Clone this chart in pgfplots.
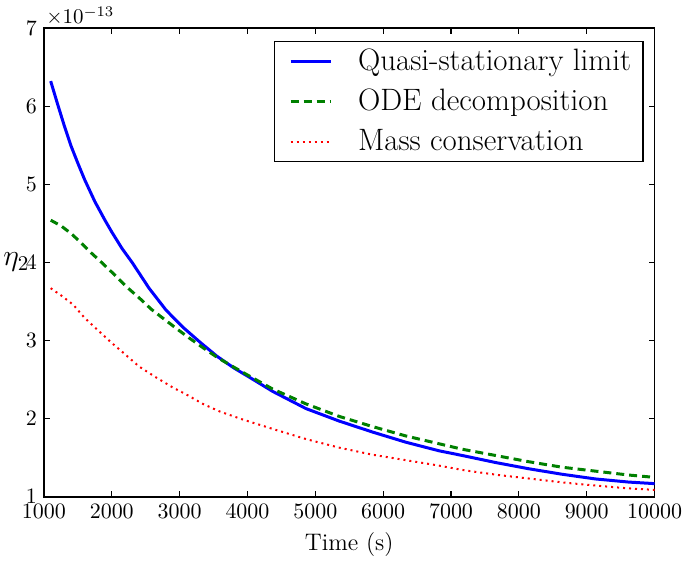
\RequirePackage{fix-cm}
\documentclass[border=0pt]{standalone}
\usepackage{fontspec}
\usepackage{pgfplots}
\pgfplotsset{compat=1.18}
\definecolor{mplgreen}{RGB}{0,128,0}
\begin{document}
\begin{tikzpicture}
\begin{axis}[
  scale only axis,
  width=306pt, height=235pt,
  xmin=1000, xmax=10000,
  ymin=1e-13, ymax=7e-13,
  xtick={1000,2000,...,10000},
  ytick={1e-13,2e-13,3e-13,4e-13,5e-13,6e-13,7e-13},
  scaled x ticks=false,
  scaled y ticks=base 10:13,
  ytick scale label code/.code={$\times 10^{#1}$},
  every y tick scale label/.style={at={(rel axis cs:0,1)}, anchor=south west,
    inner sep=1pt, font=\fontsize{10.5}{12}\selectfont},
  /pgf/number format/1000 sep={},
  tick align=inside,
  major tick length=3pt,
  axis line style={line width=0.8pt},
  major tick style={line width=0.6pt, black},
  tick label style={font=\fontsize{11}{13}\selectfont},
  xticklabel style={inner xsep=0pt},
  xlabel style={font=\fontsize{12}{14}\selectfont, yshift=-0.5pt},
  xlabel={Time (s)},
  ylabel={$\eta_2$},
  ylabel style={font=\fontsize{15}{17}\selectfont, at={(axis description cs:-0.02,0.5)},
    rotate=-90, anchor=east, inner sep=1pt},
  legend style={at={(rel axis cs:1,1)}, xshift=-5.5pt, yshift=-6.5pt, anchor=north east,
    draw=black, line width=0.6pt, font=\fontsize{15.5}{18}\selectfont,
    row sep=3.8pt, inner xsep=4pt, inner ysep=1.8pt, cells={anchor=west},
    /tikz/every odd column/.append style={column sep=11pt}},
  legend image code/.code={\path (0pt,0pt); \draw[#1] (3.5pt,0pt) -- (23.5pt,0pt);},
]
\addplot[blue, line width=1.5pt] coordinates {
(1100,6.32e-13) (1200,6.03e-13) (1300,5.75e-13) (1400,5.49e-13) (1500,5.27e-13)
(1600,5.06e-13) (1750,4.78e-13) (1900,4.54e-13) (2000,4.39e-13) (2150,4.18e-13)
(2300,4.00e-13) (2550,3.67e-13) (2800,3.39e-13) (3050,3.17e-13) (3300,2.98e-13)
(3550,2.80e-13) (3800,2.65e-13) (4050,2.52e-13) (4372,2.35e-13) (4863,2.13e-13)
(5353,1.97e-13) (5843,1.83e-13) (6334,1.70e-13) (6824,1.59e-13) (7166,1.53e-13)
(7657,1.44e-13) (8147,1.36e-13) (8637,1.29e-13) (9127,1.23e-13) (9618,1.19e-13)
(10000,1.17e-13)
};
\addlegendentry{Quasi-stationary limit}
\addplot[mplgreen, line width=1.5pt, dash pattern=on 4pt off 2.5pt] coordinates {
(1100,4.54e-13) (1250,4.47e-13) (1400,4.37e-13) (1550,4.25e-13) (1700,4.12e-13)
(1850,4.00e-13) (2044,3.84e-13) (2216,3.69e-13) (2412,3.54e-13) (2584,3.40e-13)
(2779,3.27e-13) (2975,3.14e-13) (3147,3.03e-13) (3343,2.91e-13) (3563,2.78e-13)
(3760,2.68e-13) (3980,2.57e-13) (4372,2.38e-13) (4863,2.19e-13) (5353,2.03e-13)
(5843,1.90e-13) (6334,1.78e-13) (6824,1.68e-13) (7166,1.61e-13) (7657,1.53e-13)
(8147,1.45e-13) (8637,1.38e-13) (9127,1.33e-13) (9618,1.28e-13) (10000,1.25e-13)
};
\addlegendentry{ODE decomposition}
\addplot[red, line width=1pt, dash pattern=on 1pt off 2pt] coordinates {
(1100,3.67e-13) (1250,3.58e-13) (1431,3.46e-13) (1600,3.29e-13) (1824,3.11e-13)
(2000,2.97e-13) (2216,2.81e-13) (2400,2.67e-13) (2632,2.54e-13) (2900,2.40e-13)
(3100,2.31e-13) (3343,2.19e-13) (3600,2.09e-13) (3931,1.99e-13) (4372,1.87e-13)
(4863,1.74e-13) (5353,1.63e-13) (5843,1.54e-13) (6334,1.47e-13) (6824,1.40e-13)
(7200,1.34e-13) (7700,1.28e-13) (8200,1.23e-13) (8700,1.18e-13) (9200,1.14e-13)
(9600,1.11e-13) (10000,1.09e-13)
};
\addlegendentry{Mass conservation}
\end{axis}
\path (current axis.south west) ++(-22pt,-29.5pt);
\path (current axis.north west) ++(0pt,14pt);
\end{tikzpicture}
\end{document}
